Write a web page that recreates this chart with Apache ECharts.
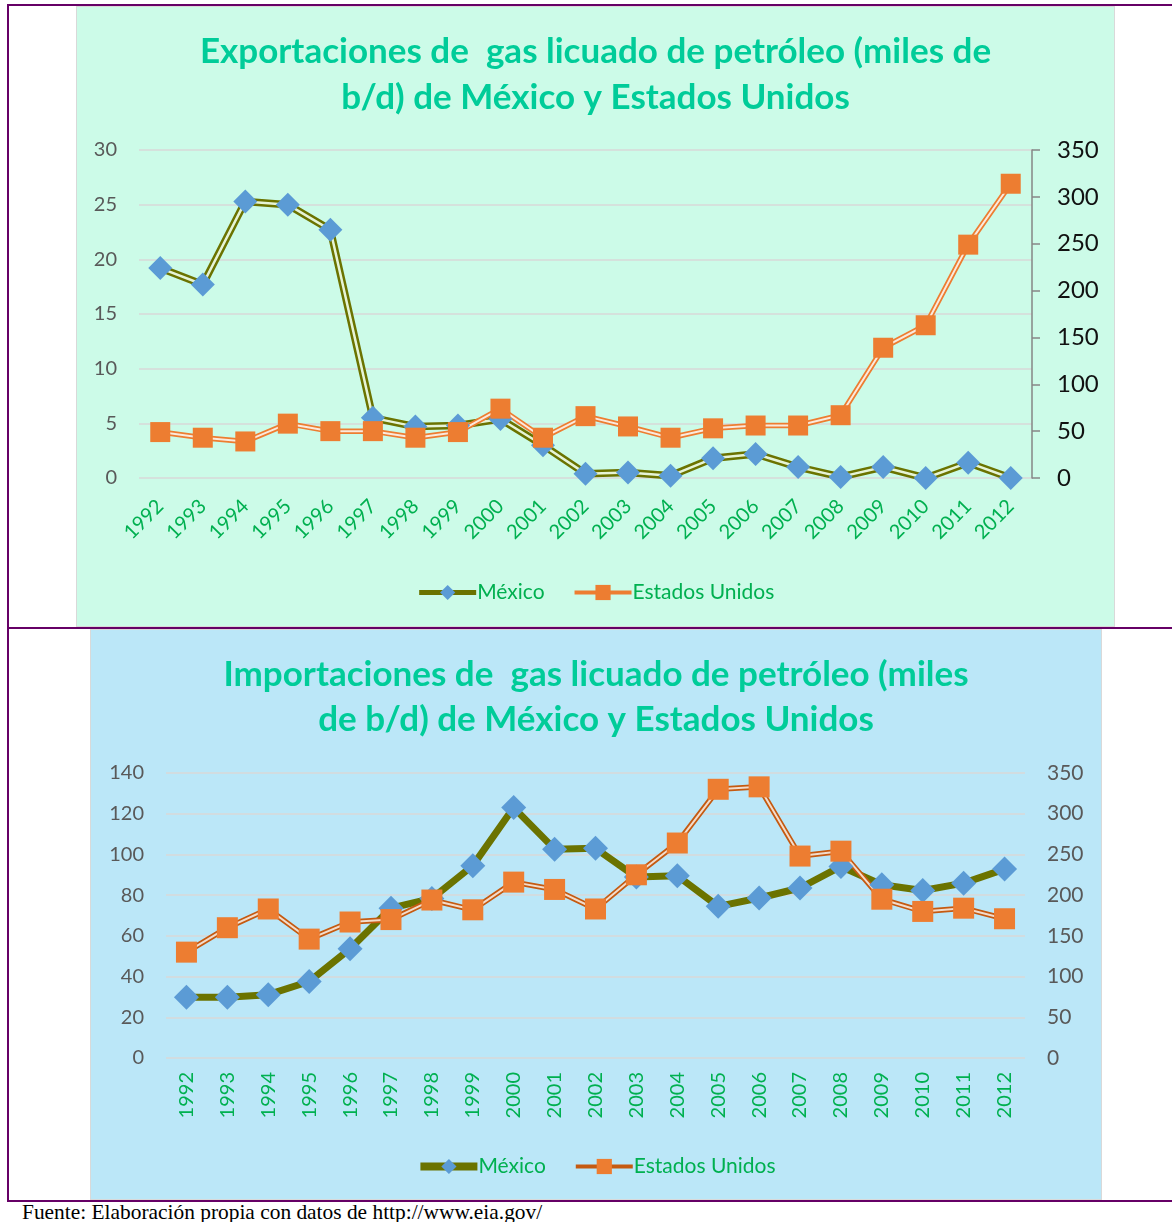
<!DOCTYPE html>
<html>
<head>
<meta charset="utf-8">
<script src="https://cdn.jsdelivr.net/npm/echarts@6/dist/echarts.min.js"></script>
<style>
body{margin:0;background:#fff;width:1172px;height:1222px;position:relative;overflow:hidden}
.line{position:absolute;background:#660066}
.chart{position:absolute;box-sizing:border-box;border:1px solid #d9d9d9}
#fuente{position:absolute;left:22px;top:1202px;font-family:"Liberation Serif",serif;font-size:21.4px;line-height:1;color:#000;white-space:nowrap}
</style>
</head>
<body>
<div class="line" style="left:8px;top:4px;width:1164px;height:2px"></div>
<div class="line" style="left:7px;top:4px;width:2px;height:1198px"></div>
<div class="line" style="left:8px;top:627px;width:1164px;height:2px"></div>
<div class="line" style="left:8px;top:1200px;width:1164px;height:2px"></div>
<div id="expo" class="chart" style="left:76px;top:6px;width:1039px;height:621px"></div>
<div id="impo" class="chart" style="left:90px;top:629px;width:1012px;height:571px"></div>
<div id="fuente">Fuente: Elaboración propia con datos de http://www.eia.gov/</div>
<script>
// años
var anios = ['1992','1993','1994','1995','1996','1997','1998','1999','2000','2001','2002',
             '2003','2004','2005','2006','2007','2008','2009','2010','2011','2012'];

// exportaciones (miles de b/d)
var expMexico = [19.2, 17.7, 25.3, 25.0, 22.7, 5.5, 4.7, 4.8, 5.4, 3.0, 0.4,
                 0.5, 0.2, 1.8, 2.2, 1.0, 0.1, 1.0, 0.0, 1.4, 0.0];
var expEU = [49, 43, 39, 58, 50, 50, 43, 49, 74, 43, 66,
             55, 43, 53, 56, 56, 67, 139, 163, 249, 314];

// importaciones (miles de b/d)
var impMexico = [29.8, 29.8, 31.1, 37.6, 53.7, 73.6, 78.4, 94.5, 123, 102.6, 103,
                 88.9, 89.5, 74.5, 78.6, 83.5, 94.1, 85.1, 82.3, 85.9, 92.8];
var impEU = [130, 160, 183, 146, 167, 170, 194, 182, 216, 207, 183,
             225, 264, 330, 333, 248, 254, 195, 180, 184, 171];

var fuente = 'Lato';
var verdeTitulo = '#00CC99';
var verdeTexto = '#00B050';
var olivo = '#6B7300';
var azul = '#5B9BD5';
var naranja = '#ED7D31';

function ejeX(rot, margen) {
    return {
        type: 'category',
        data: anios,
        boundaryGap: true,
        axisLine: {show: false},
        axisTick: {show: false},
        axisLabel: {rotate: rot, margin: margen, color: verdeTexto, fontSize: 20, fontFamily: fuente, interval: 0}
    };
}
function ejeY(max, step, lado, colorTxt, tam, linea, margen) {
    return {
        type: 'value',
        position: lado,
        min: 0,
        max: max,
        interval: step,
        axisLine: {show: linea, lineStyle: {color: '#868686', width: 1.5}},
        axisTick: {show: linea, length: 8, lineStyle: {color: '#868686', width: 1.5}},
        axisLabel: {color: colorTxt, fontSize: tam, fontFamily: fuente, margin: margen},
        splitLine: {show: lado === 'left', lineStyle: {color: '#d9d9d9', width: 1.5}}
    };
}
// serie de linea doble: una gruesa de color y otra delgada clara encima
function lineaDoble(nombre, datos, eje, color, ancho, interior, anchoInt, simbolo, tam, colorSimbolo) {
    return [{
        name: nombre, type: 'line', data: datos, yAxisIndex: eje,
        symbol: simbolo, symbolSize: tam, showSymbol: false,
        itemStyle: {color: colorSimbolo},
        lineStyle: {color: color, width: ancho},
        animation: false
    }, {
        name: nombre + '_int', type: 'line', data: datos, yAxisIndex: eje,
        symbol: simbolo, symbolSize: tam,
        itemStyle: {color: colorSimbolo},
        lineStyle: {color: interior, width: anchoInt},
        animation: false
    }];
}
function titulo(l1, l2, top1, top2) {
    var estilo = {color: verdeTitulo, fontSize: 35, fontWeight: 'bold', fontFamily: fuente, lineHeight: 40};
    return [
        {text: l1, left: 'center', top: top1, textStyle: estilo},
        {text: l2, left: 'center', top: top2, textStyle: estilo}
    ];
}
function leyenda(top, anchoMx, anchoEu, colorEu) {
    return {
        data: [
            {name: 'México', lineStyle: {width: anchoMx, color: olivo}},
            {name: 'Estados Unidos', lineStyle: {width: anchoEu, color: colorEu}}
        ],
        top: top, left: 'center',
        itemWidth: 57, itemHeight: 19, itemGap: 28,
        textStyle: {color: verdeTexto, fontSize: 21, fontFamily: fuente, padding: [0, 0, 0, -4]}
    };
}

//exportaciones
var expo = echarts.init(document.getElementById('expo'));
expo.setOption({
    backgroundColor: '#CCFBE8',
    title: titulo('Exportaciones de  gas licuado de petróleo (miles de', 'b/d) de México y Estados Unidos', 20, 66),
    legend: leyenda(570, 5, 4, naranja),
    grid: {left: 62, right: 82, top: 143, bottom: 148},
    xAxis: ejeX(45, 25),
    yAxis: [ejeY(30, 5, 'left', '#595959', 20, false, 22), ejeY(350, 50, 'right', '#111111', 24, true, 25)],
    series: [].concat(
        lineaDoble('México', expMexico, 0, olivo, 7.5, '#e6f4d6', 2.5, 'diamond', [24, 24], azul),
        lineaDoble('Estados Unidos', expEU, 1, naranja, 5.5, '#fbe9dc', 2, 'rect', [20, 20], naranja)
    )
});

//importaciones
var impo = echarts.init(document.getElementById('impo'));
impo.setOption({
    backgroundColor: '#BBE7F8',
    title: titulo('Importaciones de  gas licuado de petróleo (miles', 'de b/d) de México y Estados Unidos', 20, 65),
    legend: leyenda(521, 8, 4, '#C55A11'),
    grid: {left: 75, right: 76, top: 143, bottom: 141},
    xAxis: ejeX(90, 14),
    yAxis: [ejeY(140, 20, 'left', '#595959', 20, false, 22), ejeY(350, 50, 'right', '#595959', 21, false, 22)],
    series: [{
        name: 'México', type: 'line', data: impMexico, yAxisIndex: 0,
        symbol: 'diamond', symbolSize: [25, 25],
        itemStyle: {color: azul},
        lineStyle: {color: olivo, width: 7},
        animation: false
    }].concat(
        lineaDoble('Estados Unidos', impEU, 1, '#C55A11', 5.5, '#f3dccb', 2, 'rect', [21, 21], naranja)
    )
});
</script>
</body>
</html>
